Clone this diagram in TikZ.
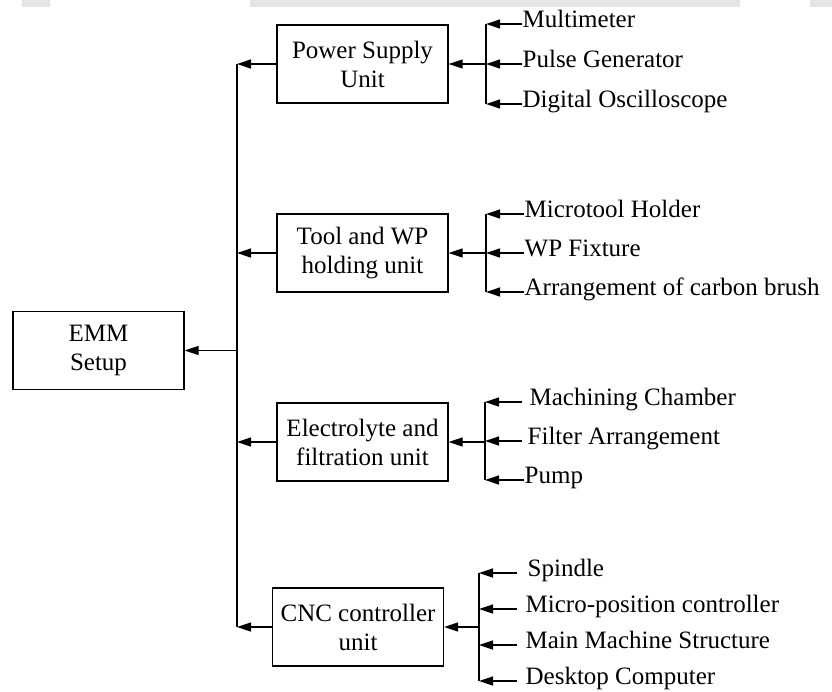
\documentclass[tikz,border=0pt]{standalone}
\usepackage{fontspec}
\setmainfont{Liberation Serif}
\usetikzlibrary{arrows.meta}
\begin{document}
\begin{tikzpicture}[x=1pt,y=-1pt,
  font=\fontsize{25}{29}\selectfont,
  line width=1.3pt,
  unitbox/.style={draw,minimum width=171pt,minimum height=78pt,align=center,inner sep=2pt},
  item/.style={anchor=west,inner sep=0pt,text height=0.662em,text depth=0pt},
  arr/.style={-{Triangle[length=14pt,width=9pt]}}]
\useasboundingbox (0,0) rectangle (832,691);
% faint background band at top
\fill[black!10] (250,0) rectangle (740,7);
\fill[black!10] (810,0) rectangle (832,7);
\fill[black!10] (22,0) rectangle (50,7);
% main boxes
\node[unitbox] (emm) at (98.5,350.5) {EMM\\Setup};
\node[unitbox] (psu) at (362.5,64) {Power Supply\\Unit};
\node[unitbox] (tool) at (362.5,253) {Tool and WP\\holding unit};
\node[unitbox] (elec) at (362.5,442) {Electrolyte and\\filtration unit};
\node[unitbox] (cnc) at (358,627) {CNC controller\\unit};
% trunk and junctions
\coordinate (t) at (237,0);
\coordinate (b1) at (486,64);
\coordinate (b2) at (486,253);
\coordinate (b3) at (485,442);
\coordinate (b4) at (479,627);
% items
\node[item] (i11) at (522,24) {Multimeter};
\node[item] (i12) at (522,64) {Pulse Generator};
\node[item] (i13) at (522,104) {Digital Oscilloscope};
\node[item] (i21) at (524,214) {Microtool Holder};
\node[item] (i22) at (524,253) {WP Fixture};
\node[item] (i23) at (524,292) {Arrangement of carbon brush};
\node[item] (i31) at (529,402) {Machining Chamber};
\node[item] (i32) at (527,441) {Filter Arrangement};
\node[item] (i33) at (524,480) {Pump};
\node[item] (i41) at (527,573) {Spindle};
\node[item] (i42) at (525,609) {Micro-position controller};
\node[item] (i43) at (525,645) {Main Machine Structure};
\node[item] (i44) at (525,681) {Desktop Computer};
% trunk
\draw (psu.west -| t) -- (cnc.west -| t);
\draw[arr] (psu.west) -- (psu.west -| t);
\draw[arr] (tool.west) -- (tool.west -| t);
\draw[arr] (elec.west) -- (elec.west -| t);
\draw[arr] (cnc.west) -- (cnc.west -| t);
\draw[arr] (emm.east -| t) -- (emm.east);
% group 1
\draw (i11.west -| b1) -- (i13.west -| b1);
\draw[arr] (b1) -- (psu.east);
\draw[arr] (i11.west) -- (i11.west -| b1);
\draw[arr] (i12.west) -- (i12.west -| b1);
\draw[arr] (i13.west) -- (i13.west -| b1);
% group 2
\draw (i21.west -| b2) -- (i23.west -| b2);
\draw[arr] (b2) -- (tool.east);
\draw[arr] (i21.west) -- (i21.west -| b2);
\draw[arr] (i22.west) -- (i22.west -| b2);
\draw[arr] (i23.west) -- (i23.west -| b2);
% group 3
\draw (i31.west -| b3) -- (i33.west -| b3);
\draw[arr] (b3) -- (elec.east);
\draw[arr] ([xshift=-7pt]i31.west) -- (i31.west -| b3);
\draw[arr] ([xshift=-5pt]i32.west) -- (i32.west -| b3);
\draw[arr] (i33.west) -- (i33.west -| b3);
% group 4
\draw (i41.west -| b4) -- (i44.west -| b4);
\draw[arr] (b4) -- (cnc.east);
\draw[arr] ([xshift=-10pt]i41.west) -- (i41.west -| b4);
\draw[arr] ([xshift=-8pt]i42.west) -- (i42.west -| b4);
\draw[arr] ([xshift=-8pt]i43.west) -- (i43.west -| b4);
\draw[arr] ([xshift=-8pt]i44.west) -- (i44.west -| b4);
\end{tikzpicture}
\end{document}
